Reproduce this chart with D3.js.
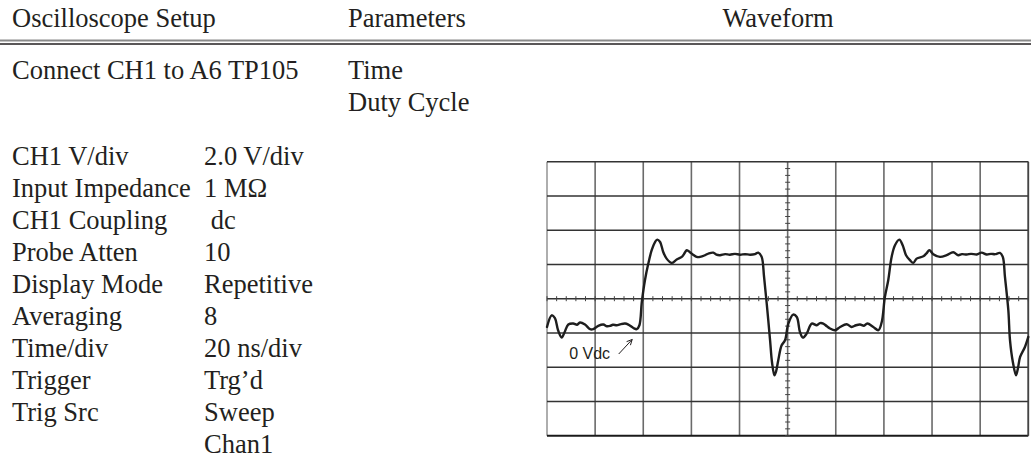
<!DOCTYPE html>
<html>
<head>
<meta charset="utf-8">
<script src="https://cdn.jsdelivr.net/npm/d3@7"></script>
<style>
  html, body { margin: 0; padding: 0; background: #fff; }
  svg { display: block; }
  .serif { font-family: "Liberation Serif", "Times New Roman", serif; font-size: 26.5px; fill: #231f20; white-space: pre; }
</style>
</head>
<body>
<svg id="chart" width="1031" height="460"></svg>
<script>
// Table headings
const headers = ["Oscilloscope Setup", "Parameters", "Waveform"];
const connectNote = "Connect CH1 to A6 TP105";
const parameters = ["Time", "Duty Cycle"];

// Scope settings
const setupLabels = ["CH1 V/div", "Input Impedance", "CH1 Coupling", "Probe Atten",
  "Display Mode", "Averaging", "Time/div", "Trigger", "Trig Src"];
const setupValues = ["2.0 V/div", "1 M\u03A9", " dc", "10", "Repetitive", "8",
  "20 ns/div", "Trg\u2019d", "Sweep", "Chan1"];

// Screen: 10 divisions at 20 ns/div, 8 divisions at 2 V/div
const timeTicks = d3.range(0, 201, 20);
const voltTicks = d3.range(-6, 10.01, 2);
const zeroLabel = "0 Vdc";

// Captured trace (ns, V)
const timeNs = [0, 1.95, 3.3, 4.6, 6.1, 7.3, 8.85, 10.9, 12.5, 13.7, 15.8, 17.9, 19.2, 21.3, 23.4,
  24.9, 26.2, 27.4, 29.0, 30.3, 32.4, 33.8, 35.9, 37.3, 38.4, 39.4, 40.7, 42.1, 43.5, 44.9,
  45.8, 47.0, 48.3, 49.7, 51.8, 53.9, 56.0, 56.9, 58.1, 59.4, 60.7, 62.2, 63.6, 65.7, 67.3,
  69.1, 70.4, 71.9, 74.0, 76.0, 78.1, 80.2, 82.3, 84.4, 86.4, 87.8, 89.2, 90.2, 91.3, 92.7,
  93.5, 94.5, 95.2, 96.1, 97.5, 98.9, 100.3, 102.3, 103.8, 105.1, 106.3, 107.9, 110.0, 112.1,
  113.4, 114.8, 116.3, 117.6, 119.7, 121.8, 124.5, 126.6, 128.4, 130.1, 131.7, 133.1, 135.6,
  137.7, 139.1, 140.4, 141.8, 143.2, 144.6, 146.4, 147.8, 149.2, 150.8, 152.2, 153.6, 156.4,
  157.7, 158.9, 160.5, 163.3, 166.1, 168.8, 170.9, 172.4, 174.4, 176.2, 178.6, 180.6, 182.7,
  184.5, 186.2, 188.2, 189.4, 190.3, 191.7, 192.4, 193.6, 194.9, 195.7, 196.6, 198.6, 200];
const volts = [0.35, 1.03, 0.86, 0.16, -0.27, 0.04, 0.49, 0.55, 0.48, 0.61, 0.49, 0.22, 0.22, 0.41, 0.49,
  0.39, 0.41, 0.48, 0.45, 0.50, 0.55, 0.49, 0.29, 0.22, 0.45, 1.81, 3.08, 4.05, 4.83, 5.31,
  5.45, 5.31, 4.73, 4.34, 4.09, 4.29, 4.44, 4.60, 4.83, 4.71, 4.57, 4.44, 4.44, 4.54, 4.65,
  4.69, 4.57, 4.54, 4.60, 4.57, 4.62, 4.57, 4.60, 4.57, 4.60, 4.69, 4.44, 3.27, 1.72, -0.43,
  -1.71, -2.47, -2.24, -1.59, -0.72, -0.43, 0.55, 1.07, 0.93, 0.06, -0.27, -0.04, 0.55, 0.45,
  0.57, 0.55, 0.39, 0.26, 0.16, 0.35, 0.51, 0.35, 0.45, 0.49, 0.42, 0.55, 0.35,
  0.16, 0.64, 2.10, 3.08, 4.44, 5.12, 5.45, 5.12, 4.54, 4.25, 4.09, 4.34, 4.48,
  4.65, 4.83, 4.60, 4.44, 4.54, 4.71, 4.54, 4.60, 4.58, 4.62, 4.58, 4.69, 4.58,
  4.62, 4.60, 4.67, 4.44, 3.27, 1.33, -0.43, -1.71, -2.47, -2.06, -1.40, -0.82, -0.23];

const svg = d3.select("#chart");

// ---- table text ----
const text = (x, y, s, anchor) => svg.append("text").attr("class", "serif")
  .attr("x", x).attr("y", y).attr("text-anchor", anchor || "start").text(s);

text(12, 27, headers[0]);
text(348, 27, headers[1]);
text(778, 27, headers[2], "middle");

svg.append("line").attr("x1", 0).attr("x2", 1031).attr("y1", 40.5).attr("y2", 40.5)
  .attr("stroke", "#8a8a8a").attr("stroke-width", 2);
svg.append("line").attr("x1", 0).attr("x2", 1031).attr("y1", 44).attr("y2", 44)
  .attr("stroke", "#231f20").attr("stroke-width", 1.5);

text(12, 79, connectNote);
parameters.forEach((p, i) => text(348, 79 + i * 31.5, p));

const rowY = i => 165 + i * 32;
setupLabels.forEach((s, i) => text(12, rowY(i), s));
setupValues.forEach((s, i) => text(204, rowY(i), s));

// ---- scope screen ----
const x = d3.scaleLinear().domain([0, 200]).range([547, 1028.3]);
const y = d3.scaleLinear().domain([-6, 10]).range([435.7, 161.7]);
const g = svg.append("g");

// grid
g.selectAll("line.vgrid").data(timeTicks).join("line").attr("class", "vgrid")
  .attr("x1", d => x(d)).attr("x2", d => x(d))
  .attr("y1", y(10)).attr("y2", y(-6))
  .attr("stroke", d => (d === 0 ? "#9a9a9a" : "#6a6a6a")).attr("stroke-width", 1.6);
g.selectAll("line.hgrid").data(voltTicks).join("line").attr("class", "hgrid")
  .attr("x1", x(0)).attr("x2", x(200))
  .attr("y1", d => y(d)).attr("y2", d => y(d))
  .attr("stroke", d => (d === -6 ? "#1a1a1a" : "#333")).attr("stroke-width", d => (d === -6 ? 2 : 1.5));
g.append("line").attr("x1", x(200)).attr("x2", x(200)).attr("y1", y(10)).attr("y2", y(-6))
  .attr("stroke", "#444").attr("stroke-width", 1.6);

// minor ticks on the centre axes
const midT = 100, midV = 2;
g.selectAll("line.tx").data(d3.range(0, 200.01, 4)).join("line").attr("class", "tx")
  .attr("x1", d => x(d)).attr("x2", d => x(d))
  .attr("y1", y(midV) - 2.5).attr("y2", y(midV) + 2.5)
  .attr("stroke", "#444").attr("stroke-width", 1);
g.selectAll("line.ty").data(d3.range(-6, 10.01, 0.4)).join("line").attr("class", "ty")
  .attr("x1", x(midT) - 2.5).attr("x2", x(midT) + 2.5)
  .attr("y1", d => y(d)).attr("y2", d => y(d))
  .attr("stroke", "#444").attr("stroke-width", 1);

// trace
const pts = timeNs.map((t, i) => [t, volts[i]]);
g.append("path").datum(pts)
  .attr("d", d3.line().x(d => x(d[0])).y(d => y(d[1])).curve(d3.curveCatmullRom.alpha(0.5)))
  .attr("fill", "none").attr("stroke", "#1e1e1e").attr("stroke-width", 2.4)
  .attr("stroke-linejoin", "round").attr("stroke-linecap", "round");

// 0 Vdc marker
g.append("text").attr("x", x(9.2)).attr("y", y(-1.5))
  .attr("font-family", "Liberation Sans, Arial, sans-serif").attr("font-size", 16)
  .attr("fill", "#231f20").text(zeroLabel);
const ax0 = [x(29.8), y(-1.23)], ax1 = [x(35.4), y(-0.38)];
g.append("line").attr("x1", ax0[0]).attr("y1", ax0[1]).attr("x2", ax1[0]).attr("y2", ax1[1])
  .attr("stroke", "#231f20").attr("stroke-width", 1);
const ang = Math.atan2(ax1[1] - ax0[1], ax1[0] - ax0[0]);
const head = [ang + Math.PI - 0.45, ang + Math.PI + 0.45]
  .map(a => [ax1[0] + 6 * Math.cos(a), ax1[1] + 6 * Math.sin(a)]);
g.append("path")
  .attr("d", `M${head[0][0]},${head[0][1]}L${ax1[0]},${ax1[1]}L${head[1][0]},${head[1][1]}`)
  .attr("fill", "none").attr("stroke", "#231f20").attr("stroke-width", 1);
</script>
</body>
</html>
